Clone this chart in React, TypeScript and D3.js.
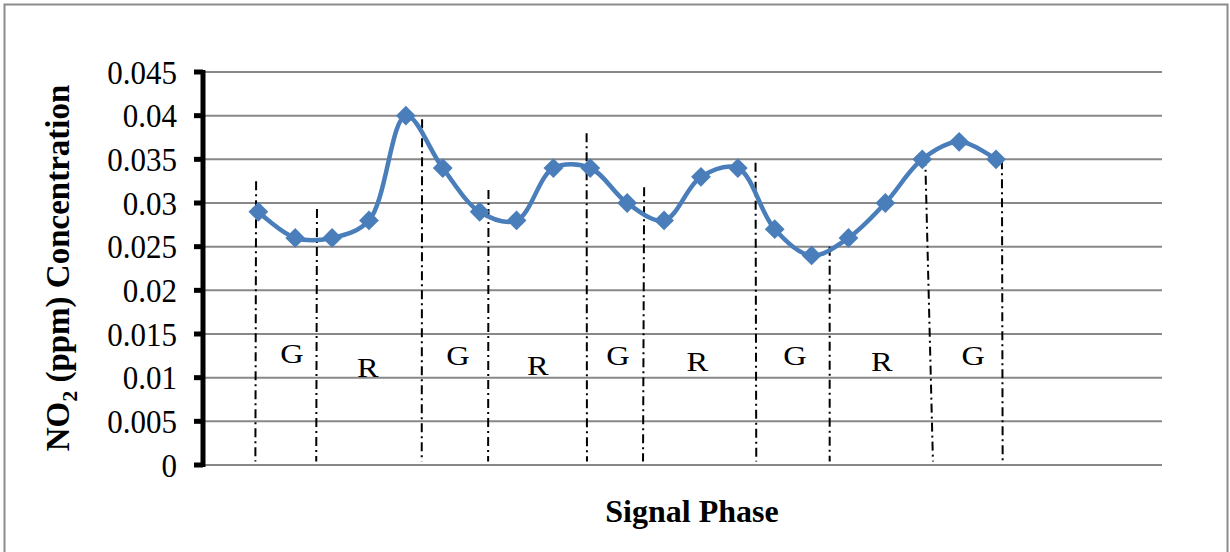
import React from "react";
import * as d3 from "d3";

// ---- data ----
const categoryCount = 26; // category slots on the x axis (first and last few empty)
const firstIndex = 1; // slot where the series starts
const no2Values = [
  0.029, 0.026, 0.026, 0.028, 0.04, 0.034, 0.029, 0.028, 0.034, 0.034, 0.03,
  0.028, 0.033, 0.034, 0.027, 0.024, 0.026, 0.03, 0.035, 0.037, 0.035,
];
const yTicks = [0, 0.005, 0.01, 0.015, 0.02, 0.025, 0.03, 0.035, 0.04, 0.045];
const yTickLabels = ["0", "0.005", "0.01", "0.015", "0.02", "0.025", "0.03", "0.035", "0.04", "0.045"];
// phase boundary lines: slot position (top/bottom), top value
const boundaryTopX = [0.94, 2.59, 5.44, 7.24, 9.9, 11.46, 14.48, 16.49, 19.08, 21.16];
const boundaryBottomX = [0.92, 2.57, 5.43, 7.23, 9.91, 11.43, 14.5, 16.49, 19.29, 21.18];
const boundaryTop = [0.0325, 0.0293, 0.0396, 0.0315, 0.038, 0.0318, 0.0346, 0.025, 0.0353, 0.0349];
const boundaryBottom = 0.0004;
// phase labels
const phaseLabels = ["G", "R", "G", "R", "G", "R", "G", "R", "G"];
const phaseLabelX = [1.91, 3.97, 6.41, 8.58, 10.75, 12.9, 15.55, 17.9, 20.38];
const phaseLabelY = [0.0117, 0.0101, 0.0115, 0.0103, 0.0115, 0.0108, 0.0115, 0.0108, 0.0115];

const W = 1230;
const H = 552;
const plot = { left: 203, right: 1162, top: 72, bottom: 465 };
const serif = "'Liberation Serif', 'Times New Roman', serif";

export default function App() {
  const band = d3
    .scaleBand<number>()
    .domain(d3.range(categoryCount))
    .range([plot.left, plot.right])
    .paddingInner(0)
    .paddingOuter(0);
  const bw = band.bandwidth();
  const xPos = (slot: number) => plot.left + (slot + 0.5) * bw;
  const y = d3.scaleLinear().domain([0, 0.045]).range([plot.bottom, plot.top]);

  const pts: [number, number][] = no2Values.map((v, i) => [
    (band(i + firstIndex) as number) + bw / 2,
    y(v),
  ]);
  const linePath = d3.line().curve(d3.curveCatmullRom.alpha(0.5))(pts) || "";
  const diamond = d3.symbol().type(d3.symbolDiamond2).size(250)() || "";

  return (
    <svg
      width={W}
      height={H}
      style={{ position: "absolute", left: 0, top: 0, background: "#fff" }}
    >
      <rect x={0} y={0} width={W} height={H} fill="#fff" />
      <rect x={4.5} y={4.5} width={1223} height={H + 10} fill="none" stroke="#8c8c8c" strokeWidth={2} />

      {/* gridlines */}
      {yTicks.map((t) => (
        <line
          key={"g" + t}
          x1={plot.left}
          x2={plot.right}
          y1={y(t)}
          y2={y(t)}
          stroke="#888"
          strokeWidth={2}
        />
      ))}

      {/* y axis */}
      <line x1={plot.left} x2={plot.left} y1={plot.top - 2} y2={plot.bottom + 2} stroke="#000" strokeWidth={5} />
      {yTicks.map((t) => (
        <line key={"t" + t} x1={194} x2={plot.left} y1={y(t)} y2={y(t)} stroke="#000" strokeWidth={5} />
      ))}
      {yTicks.map((t, i) => (
        <text
          key={"l" + t}
          transform={`translate(177,${y(t)}) scale(1,1.08)`}
          dy="0.35em"
          textAnchor="end"
          fontFamily={serif}
          fontSize={31}
          fill="#000"
        >
          {yTickLabels[i]}
        </text>
      ))}

      {/* phase boundaries */}
      {boundaryTop.map((tv, i) => (
        <line
          key={"b" + i}
          x1={xPos(boundaryTopX[i])}
          x2={xPos(boundaryBottomX[i])}
          y1={y(tv)}
          y2={y(boundaryBottom)}
          stroke="#000"
          strokeWidth={2}
          strokeDasharray="9,4,2,4"
        />
      ))}

      {/* phase labels */}
      {phaseLabels.map((p, i) => (
        <text
          key={"p" + i}
          transform={`translate(${xPos(phaseLabelX[i])},${y(phaseLabelY[i])}) scale(1.2,1)`}
          textAnchor="middle"
          fontFamily={serif}
          fontSize={27}
          fill="#000"
        >
          {p}
        </text>
      ))}

      {/* series */}
      <path d={linePath} fill="none" stroke="#4a7ebb" strokeWidth={4.5} />
      {pts.map(([px, py], i) => (
        <path key={"m" + i} d={diamond} transform={`translate(${px},${py})`} fill="#4a7ebb" />
      ))}

      {/* titles */}
      <text
        x={692}
        y={522}
        textAnchor="middle"
        fontFamily={serif}
        fontWeight="bold"
        fontSize={32}
        fill="#000"
      >
        Signal Phase
      </text>
      <text
        transform="translate(69,268) rotate(-90)"
        textAnchor="middle"
        fontFamily={serif}
        fontWeight="bold"
        fontSize={33}
        fill="#000"
      >
        NO
        <tspan fontSize={22} dy={8}>2</tspan>
        <tspan dy={-8}> (ppm) Concentration</tspan>
      </text>
    </svg>
  );
}
